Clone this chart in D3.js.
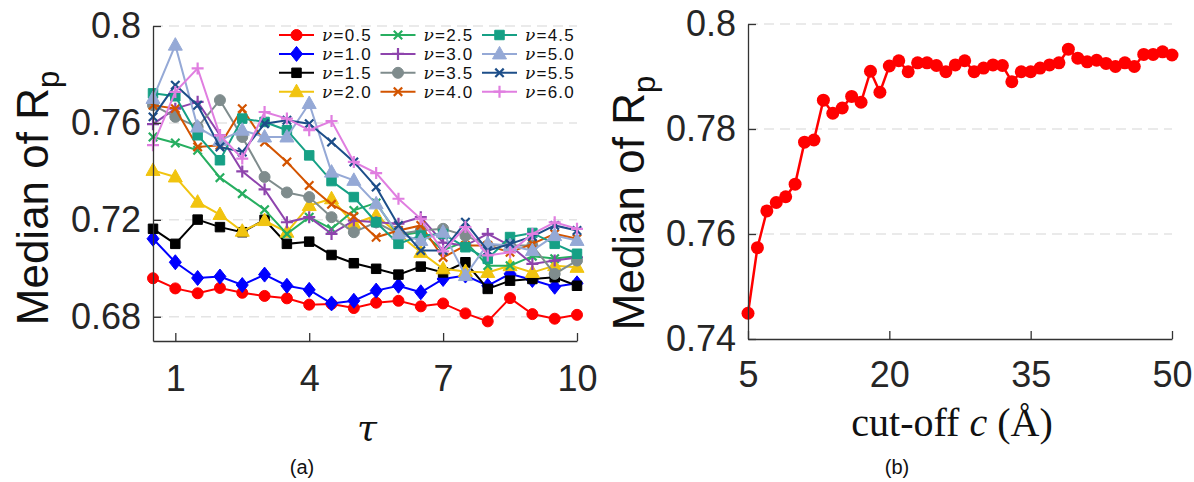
<!DOCTYPE html>
<html><head><meta charset="utf-8">
<script src="https://cdn.jsdelivr.net/npm/d3@7"></script>
<style>
body{margin:0;background:#fff}
svg{display:block;font-family:"Liberation Sans",Arial,sans-serif}
</style>
</head><body>
<svg id="chart" width="1194" height="482"></svg>
<script>
// ---------- data: panel (a) ----------
const tauValues = [0.5,1,1.5,2,2.5,3,3.5,4,4.5,5,5.5,6,6.5,7,7.5,8,8.5,9,9.5,10];
const tauTicks = [1,4,7,10];
const nuLabels = ["0.5","1.0","1.5","2.0","2.5","3.0","3.5","4.0","4.5","5.0","5.5","6.0"];
const nu05 = [0.6959,0.6917,0.6897,0.6919,0.6899,0.6886,0.6876,0.6850,0.6853,0.6836,0.6858,0.6866,0.6843,0.6855,0.6814,0.6781,0.6877,0.6811,0.6792,0.6808];
const nu10 = [0.7122,0.7025,0.6960,0.6966,0.6931,0.6974,0.6928,0.6911,0.6855,0.6866,0.6908,0.6928,0.6901,0.6956,0.6970,0.6928,0.6977,0.6952,0.6924,0.6938];
const nu15 = [0.7163,0.7101,0.7201,0.7170,0.7149,0.7200,0.7101,0.7110,0.7055,0.7021,0.6998,0.6974,0.7007,0.6983,0.7025,0.6915,0.6949,0.6956,0.6963,0.6928];
const nu20 = [0.7404,0.7377,0.7273,0.7222,0.7153,0.7197,0.7149,0.7259,0.7287,0.7184,0.7218,0.7142,0.7066,0.6998,0.6987,0.6983,0.7011,0.6983,0.7011,0.7004];
const nu25 = [0.7542,0.7517,0.7487,0.7374,0.7308,0.7242,0.7142,0.7211,0.7163,0.7239,0.7270,0.7135,0.7150,0.7075,0.7110,0.7011,0.7011,0.7050,0.7040,0.7050];
const nu30 = [0.7595,0.7659,0.7687,0.7549,0.7400,0.7326,0.7190,0.7211,0.7142,0.7197,0.7190,0.7184,0.7211,0.7106,0.7094,0.7142,0.7094,0.7018,0.7032,0.7045];
const nu35 = [0.7673,0.7625,0.7583,0.7694,0.7542,0.7377,0.7313,0.7294,0.7211,0.7149,0.7190,0.7142,0.7156,0.7163,0.7135,0.7094,0.7094,0.7094,0.6977,0.7032];
const nu40 = [0.7673,0.7659,0.7501,0.7508,0.7659,0.7521,0.7439,0.7342,0.7264,0.7214,0.7128,0.7156,0.7177,0.7045,0.7094,0.7094,0.7066,0.7101,0.7142,0.7122];
const nu45 = [0.7722,0.7710,0.7549,0.7446,0.7618,0.7604,0.7570,0.7466,0.7360,0.7294,0.7190,0.7101,0.7135,0.7142,0.7087,0.7039,0.7129,0.7146,0.7101,0.7060];
const nu50 = [0.7701,0.7921,0.7583,0.7528,0.7570,0.7542,0.7542,0.7680,0.7397,0.7363,0.7266,0.7142,0.7115,0.7149,0.6970,0.7101,0.7094,0.7073,0.7135,0.7115];
const nu55 = [0.7625,0.7756,0.7673,0.7501,0.7480,0.7597,0.7611,0.7597,0.7521,0.7439,0.7335,0.7177,0.7073,0.7073,0.7190,0.7073,0.7101,0.7131,0.7177,0.7156];
const nu60 = [0.7508,0.7728,0.7825,0.7549,0.7453,0.7645,0.7618,0.7570,0.7608,0.7439,0.7393,0.7287,0.7204,0.7070,0.7170,0.7053,0.7066,0.7142,0.7190,0.7163];
const leftYTicks = [0.68,0.72,0.76,0.8];

// ---------- data: panel (b) ----------
const cutoffValues = [5,6,7,8,9,10,11,12,13,14,15,16,17,18,19,20,21,22,23,24,25,26,27,28,29,30,31,32,33,34,35,36,37,38,39,40,41,42,43,44,45,46,47,48,49,50];
const medianRp = [0.7449,0.7574,0.7644,0.7660,0.7671,0.7695,0.7775,0.7779,0.7855,0.7830,0.7840,0.7862,0.7851,0.7910,0.7870,0.7920,0.7930,0.7909,0.7926,0.7926,0.7921,0.7909,0.7922,0.7930,0.7909,0.7916,0.7922,0.7921,0.7890,0.7909,0.7909,0.7916,0.7922,0.7926,0.7952,0.7935,0.7928,0.7931,0.7925,0.7919,0.7926,0.7919,0.7942,0.7942,0.7947,0.7941];
const cutoffTicks = [5,20,35,50];
const rightYTicks = [0.74,0.76,0.78,0.8];

// ---------- styling ----------
const seriesList = [nu05,nu10,nu15,nu20,nu25,nu30,nu35,nu40,nu45,nu50,nu55,nu60];
const colors = ["#ff0000","#0000ff","#000000","#f1c40f","#27ae60","#8e44ad","#7f8c8d","#d35400","#16a085","#95a9d6","#1d4e89","#e07ee0"];
const markers = ["circle","diamond","square","triangle","x","plus","circle","x","square","triangle","x","plus"];

function markerPath(type){
  switch(type){
    case "circle": return d3.symbol().type(d3.symbolCircle).size(95)();
    case "square": return d3.symbol().type(d3.symbolSquare).size(90)();
    case "triangle": return "M0,-7.5L7,5L-7,5Z";
    case "diamond": return "M0,-7.5L6,0L0,7.5L-6,0Z";
    case "x": return "M-4.2,-4.2L4.2,4.2M-4.2,4.2L4.2,-4.2";
    case "plus": return "M-6,0L6,0M0,-6L0,6";
  }
}
function drawMarker(sel, type, color){
  const filled = !(type==="x"||type==="plus");
  sel.append("path").attr("d", markerPath(type))
    .attr("fill", filled ? color : "none")
    .attr("stroke", color)
    .attr("stroke-width", filled ? 1 : 2.2);
}

const svg = d3.select("#chart");
const axisColor = "#333";
const gridColor = "#e4e4e4";

// ---------- panel (a) ----------
const xA = d3.scaleLinear().domain([0.5,10]).range([153,577]);
const yA = d3.scaleLinear().domain([0.67,0.8]).range([341,26]);

const gA = svg.append("g");
gA.selectAll("line.grid").data(leftYTicks).join("line")
  .attr("x1",153).attr("x2",577).attr("y1",d=>yA(d)).attr("y2",d=>yA(d))
  .attr("stroke",gridColor).attr("stroke-width",1.5).attr("stroke-dasharray","10,6");

const lineA = d3.line().x((d,i)=>xA(tauValues[i])).y(d=>yA(d));
seriesList.forEach((vals,k)=>{
  const g = gA.append("g");
  g.append("path").attr("d", lineA(vals)).attr("fill","none")
    .attr("stroke",colors[k]).attr("stroke-width",2);
  vals.forEach((v,i)=>{
    const m = g.append("g").attr("transform",`translate(${xA(tauValues[i])},${yA(v)})`);
    drawMarker(m, markers[k], colors[k]);
  });
});

// axes (a)
const axA = gA.append("g").attr("transform","translate(0,341)")
  .call(d3.axisBottom(xA).tickValues(tauTicks).tickFormat(d3.format("d")).tickSizeInner(-8).tickSizeOuter(0).tickPadding(24));
const ayA = gA.append("g").attr("transform","translate(153,0)")
  .call(d3.axisLeft(yA).tickValues(leftYTicks).tickFormat(d=>String(d)).tickSizeInner(-8).tickSizeOuter(0).tickPadding(12));
[axA,ayA].forEach(a=>{
  a.select(".domain").attr("stroke",axisColor).attr("stroke-width",1.3);
  a.selectAll(".tick line").attr("stroke",axisColor).attr("stroke-width",1.3);
  a.selectAll(".tick text").attr("fill","#262626").style("font-size","36px").style("font-family","Liberation Sans, Arial, sans-serif");
});
gA.append("text").attr("transform","translate(48,198) rotate(-90)")
  .attr("text-anchor","middle").style("font-size","44px").attr("fill","#111")
  .call(t=>{t.append("tspan").text("Median of R");t.append("tspan").attr("dy",11).style("font-size","31px").text("p");});
gA.append("text").attr("x",367).attr("y",440).attr("text-anchor","middle")
  .style("font-family","DejaVu Serif, serif").style("font-style","italic").style("font-size","36px").attr("fill","#111").text("τ");
gA.append("text").attr("x",302).attr("y",474).attr("text-anchor","middle").style("font-size","20px").attr("fill","#111").text("(a)");

// legend
const leg = gA.append("g");
nuLabels.forEach((lab,k)=>{
  const col = Math.floor(k/4), row = k%4;
  const x0 = 279 + col*101.5, y0 = 35 + row*18.9;
  const g = leg.append("g").attr("transform",`translate(${x0},${y0})`);
  g.append("line").attr("x1",0).attr("x2",35).attr("stroke",colors[k]).attr("stroke-width",2);
  const m = g.append("g").attr("transform","translate(17.5,0)");
  drawMarker(m, markers[k], colors[k]);
  const t = g.append("text").attr("x",43).attr("y",6).style("font-size","17px").style("letter-spacing","1.2px").attr("fill","#111");
  t.append("tspan").style("font-family","DejaVu Serif, serif").style("font-style","italic").text("ν");
  t.append("tspan").text("=" + lab);
});

// ---------- panel (b) ----------
const xB = d3.scaleLinear().domain([5,50]).range([748,1172]);
const yB = d3.scaleLinear().domain([0.74,0.8]).range([339,24]);
const gB = svg.append("g");
gB.selectAll("line.grid").data(rightYTicks.slice(1)).join("line")
  .attr("x1",748).attr("x2",1172).attr("y1",d=>yB(d)).attr("y2",d=>yB(d))
  .attr("stroke",gridColor).attr("stroke-width",1.5).attr("stroke-dasharray","10,6");
const lineB = d3.line().x((d,i)=>xB(cutoffValues[i])).y(d=>yB(d));
gB.append("path").attr("d",lineB(medianRp)).attr("fill","none").attr("stroke","#ff0000").attr("stroke-width",2.5);
gB.selectAll("circle.pt").data(medianRp).join("circle")
  .attr("cx",(d,i)=>xB(cutoffValues[i])).attr("cy",d=>yB(d)).attr("r",6.5).attr("fill","#ff0000");

const axB = gB.append("g").attr("transform","translate(0,339)")
  .call(d3.axisBottom(xB).tickValues(cutoffTicks).tickFormat(d3.format("d")).tickSizeInner(-8).tickSizeOuter(0).tickPadding(22));
const ayB = gB.append("g").attr("transform","translate(748,0)")
  .call(d3.axisLeft(yB).tickValues(rightYTicks).tickFormat(d=>String(d)).tickSizeInner(-8).tickSizeOuter(0).tickPadding(12));
[axB,ayB].forEach(a=>{
  a.select(".domain").attr("stroke",axisColor).attr("stroke-width",1.3);
  a.selectAll(".tick line").attr("stroke",axisColor).attr("stroke-width",1.3);
  a.selectAll(".tick text").attr("fill","#262626").style("font-size","36px").style("font-family","Liberation Sans, Arial, sans-serif");
});
gB.append("text").attr("transform","translate(644,203) rotate(-90)")
  .attr("text-anchor","middle").style("font-size","44px").attr("fill","#111")
  .call(t=>{t.append("tspan").text("Median of R");t.append("tspan").attr("dy",11).style("font-size","31px").text("p");});
gB.append("text").attr("x",952).attr("y",436).attr("text-anchor","middle")
  .style("font-family","Liberation Serif, serif").style("font-size","40px").attr("fill","#111")
  .call(t=>{t.append("tspan").text("cut-off ");t.append("tspan").style("font-style","italic").text("c");t.append("tspan").text(" (Å)");});
gB.append("text").attr("x",897).attr("y",474).attr("text-anchor","middle").style("font-size","20px").attr("fill","#111").text("(b)");
</script>
</body></html>
